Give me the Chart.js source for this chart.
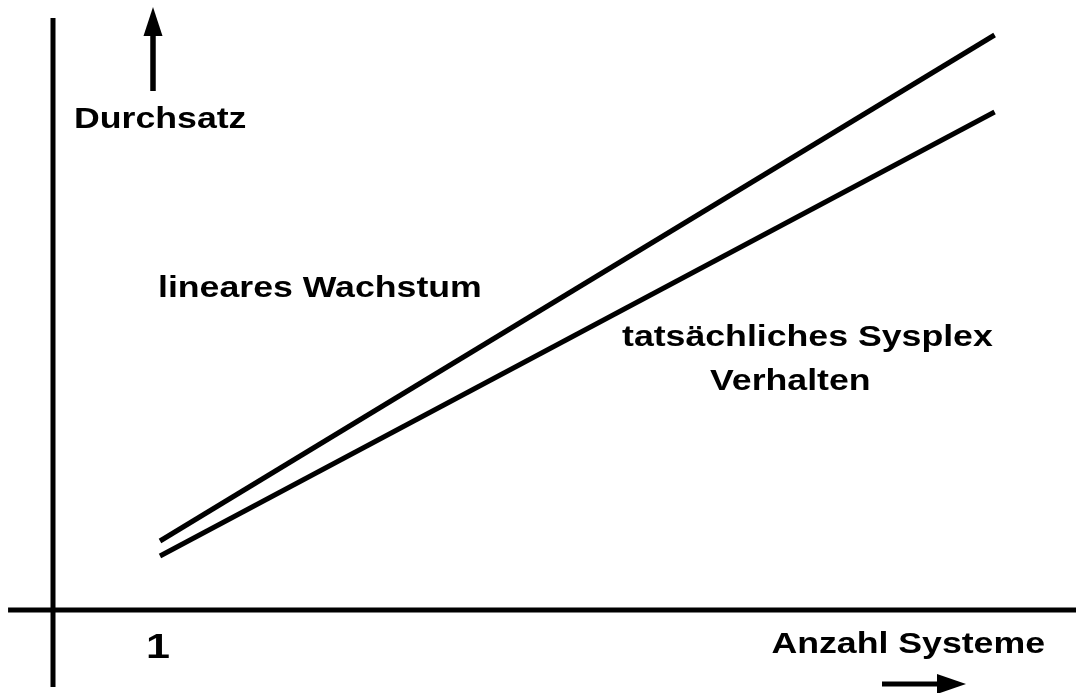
<!DOCTYPE html>
<html>
<head>
<meta charset="utf-8">
<title>Durchsatz</title>
<script src="https://cdn.jsdelivr.net/npm/chart.js@4"></script>
<style>
  html, body { margin: 0; padding: 0; background: #fff; }
  #wrap { position: relative; width: 1076px; height: 693px; }
</style>
</head>
<body>
<div id="wrap"><canvas id="chart"></canvas></div>
<script>
// --- data ---
const systems = [1, 8.8];          // Anzahl Systeme
const linearGrowth = [6.9, 57.5];  // lineares Wachstum
const sysplexActual = [5.4, 49.8]; // tatsächliches Sysplex Verhalten
const xTickLabels = ['1'];

// the original slide is stretched horizontally, text follows it
const STRETCH = 1.23;
const FONT = '"Liberation Sans", Arial, sans-serif';

function toPoints(xs, ys) {
    return xs.map((x, i) => ({ x: x, y: ys[i] }));
}

function stretchedText(ctx, text, x, y, size, align) {
    ctx.save();
    ctx.translate(x, y);
    ctx.scale(STRETCH, 1);
    ctx.font = 'bold ' + size + 'px ' + FONT;
    ctx.textAlign = align || 'left';
    ctx.textBaseline = 'alphabetic';
    ctx.fillStyle = '#000';
    ctx.fillText(text, 0, 0);
    ctx.restore();
}

function arrow(ctx, x1, y1, x2, y2, headLen, headHalf, width) {
    const a = Math.atan2(y2 - y1, x2 - x1);
    const bx = x2 - Math.cos(a) * headLen, by = y2 - Math.sin(a) * headLen;
    ctx.save();
    ctx.strokeStyle = '#000';
    ctx.fillStyle = '#000';
    ctx.lineWidth = width;
    ctx.beginPath();
    ctx.moveTo(x1, y1);
    ctx.lineTo(bx, by);
    ctx.stroke();
    ctx.beginPath();
    ctx.moveTo(x2, y2);
    ctx.lineTo(bx - Math.sin(a) * headHalf, by + Math.cos(a) * headHalf);
    ctx.lineTo(bx + Math.sin(a) * headHalf, by - Math.cos(a) * headHalf);
    ctx.closePath();
    ctx.fill();
    ctx.restore();
}

// axes, arrows and labels drawn on top of the scales
const sketchDecor = {
    id: 'sketchDecor',
    afterDatasetsDraw(chart) {
        const ctx = chart.ctx;
        const xs = chart.scales.x, ys = chart.scales.y;
        const x0 = xs.getPixelForValue(0), y0 = ys.getPixelForValue(0);

        ctx.save();
        ctx.strokeStyle = '#000';
        ctx.lineWidth = 5;
        ctx.lineCap = 'butt';
        // vertical axis
        ctx.beginPath();
        ctx.moveTo(x0, ys.getPixelForValue(59.2));
        ctx.lineTo(x0, ys.getPixelForValue(-7.7));
        ctx.stroke();
        // horizontal axis
        ctx.beginPath();
        ctx.moveTo(xs.getPixelForValue(-0.42), y0);
        ctx.lineTo(chart.width, y0);
        ctx.stroke();
        ctx.restore();

        // direction arrows
        arrow(ctx, 153, 91, 153, 7, 29, 9.5, 5.5);
        arrow(ctx, 882, 684, 966, 684, 29, 10, 5);

        // labels
        stretchedText(ctx, 'Durchsatz', 74, 128, 29);
        stretchedText(ctx, 'lineares Wachstum', 158, 297, 29);
        stretchedText(ctx, 'tatsächliches Sysplex', 622, 346, 29);
        stretchedText(ctx, 'Verhalten', 710, 390, 29);
        stretchedText(ctx, 'Anzahl Systeme', 1045, 653, 29, 'right');
        xTickLabels.forEach((t) => {
            const px = xs.getPixelForValue(Number(t));
            stretchedText(ctx, t, px - 2, 658, 35, 'center');
        });
    }
};

new Chart(document.getElementById('chart'), {
    type: 'line',
    data: {
        datasets: [
            {
                label: 'lineares Wachstum',
                data: toPoints(systems, linearGrowth),
                borderColor: '#000',
                borderWidth: 5,
                pointRadius: 0,
                tension: 0
            },
            {
                label: 'tatsächliches Sysplex Verhalten',
                data: toPoints(systems, sysplexActual),
                borderColor: '#000',
                borderWidth: 5,
                pointRadius: 0,
                tension: 0
            }
        ]
    },
    options: {
        responsive: true,
        maintainAspectRatio: false,
        animation: false,
        layout: { padding: 0 },
        plugins: { legend: { display: false }, tooltip: { enabled: false } },
        scales: {
            // 107 px per system, origin at x=53
            x: { type: 'linear', display: false, min: -53 / 107, max: (1076 - 53) / 107 },
            // 10 px per unit, origin at y=610
            y: { type: 'linear', display: false, min: -8.3, max: 61.0 }
        }
    },
    plugins: [sketchDecor]
});
</script>
</body>
</html>
